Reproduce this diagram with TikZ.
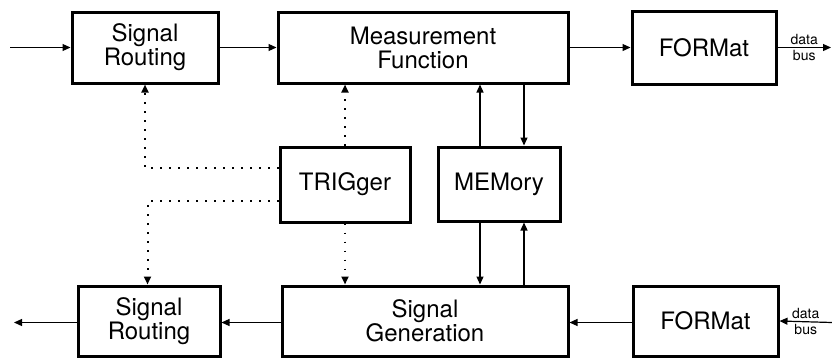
\documentclass[tikz,border=0pt]{standalone}
\usepackage{fontspec}
\setmainfont{TeX Gyre Heros}
\usetikzlibrary{arrows.meta}

\tikzset{
  block/.style={draw, line width=3pt, align=center, inner sep=0pt,
    font=\fontsize{24}{24}\selectfont},
  link/.style={line width=1.2pt, -{Triangle[length=8pt,width=7pt]}},
  trigline/.style={line width=2pt, dash pattern=on 1.6pt off 7.4pt,
    -{Triangle[length=8pt,width=7pt]}},
  buslabel/.style={font=\fontsize{14}{15}\selectfont, inner sep=2pt}
}

\begin{document}
\begin{tikzpicture}[x=1pt, y=-1pt]
\useasboundingbox (0,0) rectangle (832,359);

% Upper chain
\node[block, minimum width=146pt, minimum height=71pt] (routeA) at (145,47.5) {Signal\\Routing};
\node[block, minimum width=290pt, minimum height=71pt] (meas) at (423,47.5) {Measurement\\Function};
\node[block, minimum width=144pt, minimum height=73pt] (fmtA) at (704,47.5) {FORMat};

% Middle blocks
\node[block, minimum width=130pt, minimum height=75pt] (trig) at (345,184.5) {TRIGger};
\node[block, minimum width=122pt, minimum height=74pt] (mem) at (499,184) {MEMory};

% Lower chain
\node[block, minimum width=142pt, minimum height=70pt] (routeB) at (149,321) {Signal\\Routing};
\node[block, minimum width=286pt, minimum height=70pt] (gen) at (425,321) {Signal\\Generation};
\node[block, minimum width=145pt, minimum height=70pt] (fmtB) at (705.5,321) {FORMat};

% Free ends
\coordinate (inA) at (10,47.5);
\coordinate (busA) at (831,47.5);
\coordinate (outB) at (14,322.5);
\coordinate (busB) at (832,322.5);

% Data flow, top
\draw[link] (inA) -- (routeA.west);
\draw[link] (routeA.east) -- (meas.west);
\draw[link] (meas.east) -- (fmtA.west);
\draw[link] (fmtA.east) -- (busA)
  node[midway, above, buslabel] {data}
  node[midway, below, buslabel] {bus};

% Data flow, bottom
\draw[link] (busB) -- (fmtB.east)
  node[midway, above, buslabel] {data}
  node[midway, below, buslabel] {bus};
\draw[link] (fmtB.west |- busB) -- (gen.east |- busB);
\draw[link] (gen.west |- busB) -- (routeB.east |- busB);
\draw[link] (routeB.west |- busB) -- (outB);

% Memory paths
\draw[link] ([xshift=-19pt]mem.north) -- ([xshift=-19pt]mem.north |- meas.south);
\draw[link] ([xshift=25pt]mem.north |- meas.south) -- ([xshift=25pt]mem.north);
\draw[link] ([xshift=-19pt]mem.south) -- ([xshift=-19pt]mem.south |- gen.north);
\draw[link] ([xshift=25pt]mem.south |- gen.north) -- ([xshift=25pt]mem.south);

% Trigger paths
\draw[trigline] (trig.north) -- (trig.north |- meas.south);
\draw[trigline] (trig.south) -- (trig.south |- gen.north);
\draw[trigline] ([yshift=16.5pt]trig.west) -| (routeA.south);
\draw[trigline] ([yshift=-16.5pt]trig.west) -| ([xshift=-1.5pt]routeB.north);

\end{tikzpicture}
\end{document}
